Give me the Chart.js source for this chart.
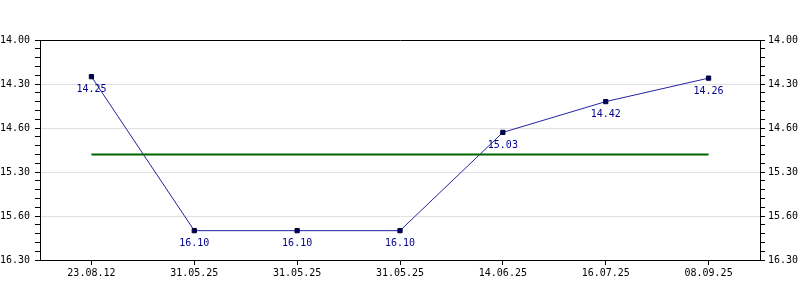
<!DOCTYPE html>
<html>
<head>
<meta charset="utf-8">
<script src="https://cdn.jsdelivr.net/npm/chart.js@4.4.1/dist/chart.umd.min.js"></script>
<style>
  body { margin: 0; background: #fff; }
  #wrap { width: 800px; height: 300px; }
</style>
</head>
<body>
<div id="wrap"><canvas id="chart"></canvas></div>
<script>
// dates on the x axis
const dates = ['23.08.12', '31.05.25', '31.05.25', '31.05.25', '14.06.25', '16.07.25', '08.09.25'];
// times in seconds (shown as m.ss)
const times = [865, 970, 970, 970, 903, 882, 866];
// average line (15.18)
const avgTime = 918;
// y tick values and the labels printed next to them
const yTickValues = [840, 870, 900, 930, 960, 990];
const yTickLabels = ['14.00', '14.30', '14.60', '15.30', '15.60', '16.30'];

const monoFont = { family: 'DejaVu Sans Mono', size: 10 };

function fmtTime(s) {
  let m = Math.floor(s / 60);
  let r = s - m * 60;
  return m + '.' + (r < 10 ? '0' + r : r);
}

function yAxis(pos) {
  return {
    type: 'linear',
    position: pos,
    reverse: true,
    min: 840,
    max: 990,
    afterFit: (scale) => { scale.width = 40; },
    border: { display: true, color: '#000', width: 1 },
    grid: {
      drawOnChartArea: pos == 'left',
      color: (ctx) => (ctx.tick && ctx.tick.value % 30 === 0) ? '#e0e0e0' : 'rgba(0,0,0,0)',
      tickColor: '#000',
      tickLength: 5,
      lineWidth: 1
    },
    ticks: {
      stepSize: 6,
      autoSkip: false,
      padding: pos == 'left' ? 5 : 3,
      color: '#000',
      font: monoFont,
      callback: (value) => {
        let i = yTickValues.indexOf(value);
        return i >= 0 ? yTickLabels[i] : '';
      }
    }
  };
}

// top edge of the plot frame
const framePlugin = {
  id: 'frame',
  afterDraw(chart) {
    const a = chart.chartArea;
    const c = chart.ctx;
    c.save();
    c.strokeStyle = '#000';
    c.lineWidth = 1;
    c.beginPath();
    c.moveTo(Math.round(a.left) + 0.5, Math.round(a.top) + 0.5);
    c.lineTo(Math.round(a.right) + 0.5, Math.round(a.top) + 0.5);
    c.stroke();
    c.restore();
  }
};

// value labels under each point
const valueLabels = {
  id: 'valueLabels',
  afterDatasetsDraw(chart) {
    const meta = chart.getDatasetMeta(1);
    const c = chart.ctx;
    c.save();
    c.fillStyle = '#000090';
    c.font = '10px "DejaVu Sans Mono"';
    c.textAlign = 'center';
    c.textBaseline = 'middle';
    meta.data.forEach((pt, i) => {
      c.fillText(fmtTime(times[i]), pt.x, pt.y + 13);
    });
    c.restore();
  }
};

new Chart(document.getElementById('chart'), {
  type: 'line',
  data: {
    labels: dates,
    datasets: [
      {
        data: dates.map(() => avgTime),
        borderColor: '#006400',
        borderWidth: 2,
        pointRadius: 0,
        yAxisID: 'y'
      },
      {
        data: times,
        borderColor: '#2323a0',
        borderWidth: 1,
        pointStyle: 'rect',
        pointRadius: 3,
        pointBackgroundColor: '#000066',
        pointBorderColor: '#000033',
        pointBorderWidth: 1,
        yAxisID: 'y'
      }
    ]
  },
  options: {
    responsive: true,
    maintainAspectRatio: false,
    animation: false,
    layout: { padding: { top: 40, left: 0, right: 0, bottom: 0 } },
    plugins: { legend: { display: false }, tooltip: { enabled: false } },
    scales: {
      x: {
        offset: true,
        afterFit: (scale) => { scale.height = 40; },
        border: { display: true, color: '#000', width: 1 },
        grid: { offset: false, drawOnChartArea: false, tickColor: '#000', tickLength: 5 },
        ticks: { color: '#000', font: monoFont, padding: 2, maxRotation: 0, autoSkip: false }
      },
      y: yAxis('left'),
      y2: yAxis('right')
    }
  },
  plugins: [framePlugin, valueLabels]
});
</script>
</body>
</html>
